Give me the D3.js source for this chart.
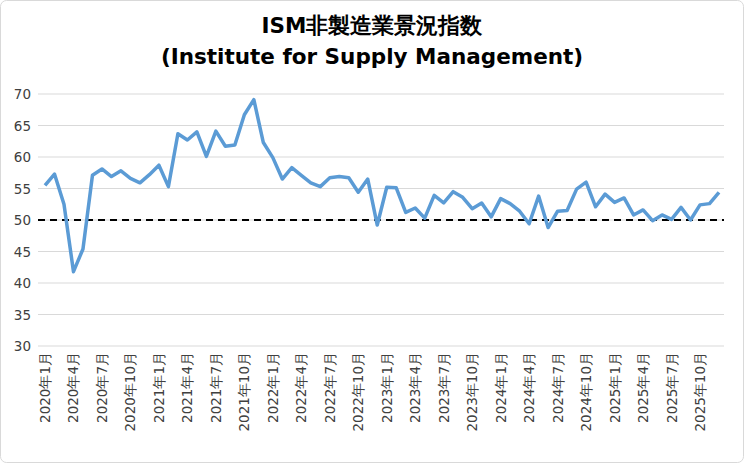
<!DOCTYPE html><html><head><meta charset="utf-8"><script src="https://d3js.org/d3.v7.min.js"></script>
<style>body{margin:0;background:#fff}</style></head><body><svg id="c" width="744" height="463"></svg>
<script>
const years=[2020,2021,2022,2023,2024,2025];
const values=[55.5,57.3,52.5,41.8,45.4,57.1,58.1,56.9,57.8,56.6,55.9,57.2,
58.7,55.3,63.7,62.7,64.0,60.1,64.1,61.7,61.9,66.7,69.1,62.3,
59.9,56.5,58.3,57.1,55.9,55.3,56.7,56.9,56.7,54.4,56.5,49.2,
55.2,55.1,51.2,51.9,50.3,53.9,52.7,54.5,53.6,51.8,52.7,50.5,
53.4,52.6,51.4,49.4,53.8,48.8,51.4,51.5,54.9,56.0,52.1,54.1,
52.8,53.5,50.8,51.6,49.9,50.8,50.1,52.0,50.0,52.4,52.6,54.4];
const yTicks=[30,35,40,45,50,55,60,65,70];
const cats=[];years.forEach(y=>{for(let m=1;m<=12;m++)cats.push(y+"年"+m+"月");});
const svg=d3.select("#c");
svg.append("rect").attr("x",0.5).attr("y",0.5).attr("width",743).attr("height",462).attr("rx",6).attr("fill","#fff").attr("stroke","#d9d9d9");
const x=d3.scalePoint().domain(cats).range([45,719]);
const y=d3.scaleLinear().domain([30,70]).range([346,94]);
const L=38,R=724;
svg.append("g").selectAll("line").data(yTicks).join("line").attr("x1",L).attr("x2",R).attr("y1",d=>y(d)).attr("y2",d=>y(d)).attr("stroke","#d9d9d9");
svg.append("g").selectAll("text").data(yTicks).join("text").attr("x",31).attr("y",d=>y(d)+5).attr("text-anchor","end").attr("font-family","Verdana, DejaVu Sans, sans-serif").attr("font-size",13.5).attr("fill","#404040").text(d=>d);
svg.append("line").attr("x1",L).attr("x2",R).attr("y1",y(50)).attr("y2",y(50)).attr("stroke","#000").attr("stroke-width",2).attr("stroke-dasharray","7,5");
const lab=cats.filter((c,i)=>i%3===0);
svg.append("g").selectAll("text").data(lab).join("text").attr("transform",d=>`translate(${x(d)+5},352) rotate(-90)`).attr("text-anchor","end").attr("font-family","Verdana, DejaVu Sans, sans-serif").attr("font-size",13.5).attr("fill","#404040").text(d=>d);
svg.append("path").datum(values).attr("fill","none").attr("stroke","#5b9bd5").attr("stroke-width",3.5).attr("stroke-linejoin","round").attr("d",d3.line().x((d,i)=>x(cats[i])).y(d=>y(d)));
const t=svg.append("text").attr("text-anchor","middle").attr("font-family","Verdana, DejaVu Sans, sans-serif").attr("font-weight","bold").attr("font-size",21.5).attr("fill","#000");
t.append("tspan").attr("x",372).attr("y",33).text("ISM非製造業景況指数");
t.append("tspan").attr("x",372).attr("y",64).text("(Institute for Supply Management)");
</script></body></html>
